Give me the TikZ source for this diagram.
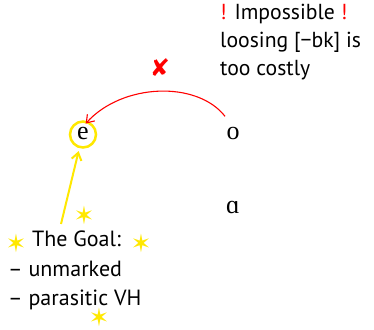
\documentclass[tikz,border=0pt]{standalone}
\usepackage{fontspec}
\setmainfont{PT Sans}
\newfontfamily\ipafont{Liberation Serif}
\newfontfamily\symfont{DejaVu Sans}
\usetikzlibrary{positioning,arrows.meta}
\definecolor{goalyellow}{RGB}{255,232,0}

\begin{document}
\begin{tikzpicture}[
  x=1pt, y=-1pt,
  vowel/.style={font=\ipafont\fontsize{26}{28}\selectfont, inner sep=0pt},
  note/.style={font=\fontsize{21.7}{28}\selectfont, align=left, inner sep=0pt,
               anchor=north west},
  goalstar/.style={font=\symfont\fontsize{25}{25}\selectfont, text=goalyellow,
                   inner sep=0pt},
  move/.style={-{Straight Barb[length=2.5mm,width=3.5mm]}, red, line width=1.1pt},
  pointer/.style={-{Straight Barb[length=2.5mm,width=3.5mm]}, goalyellow,
                  line width=2pt},
]
  \useasboundingbox (0,0) rectangle (374,329);

  % the vowels
  \node[vowel] (e) at (83,133) {e};
  \node[vowel] (o) at (233,133) {o};
  \node[vowel] (a) at (233,207) {ɑ};
  \draw[goalyellow, line width=2.5pt] (e.center) ++(0,1.5) circle (13);

  % blocked spreading
  \node[note] (why) at (220,4)
    {{\color{red}!} Impossible {\color{red}!}\\ loosing [−bk] is\\ too costly};
  \draw[move, shorten <=13pt, shorten >=4pt]
    (o.north) to[out=128, in=48] (e.north);
  \node[font=\symfont\fontsize{24}{24}\selectfont, text=red]
    (no) at (160,68) {✘};

  % the goal
  \node[note, font=\fontsize{22}{29.5}\selectfont] (goal) at (8,231)
    {\hspace{24pt}The Goal:\\ – unmarked\\ – parasitic VH};
  \node[goalstar] (s1) at (84,215) {✶};
  \node[goalstar] (s2) at (16,243) {✶};
  \node[goalstar] (s3) at (141,243) {✶};
  \node[goalstar] (s4) at (99,317) {✶};
  \coordinate (foot) at (61,224);
  \draw[pointer, shorten >=12pt] (foot) -- (e);
\end{tikzpicture}
\end{document}
